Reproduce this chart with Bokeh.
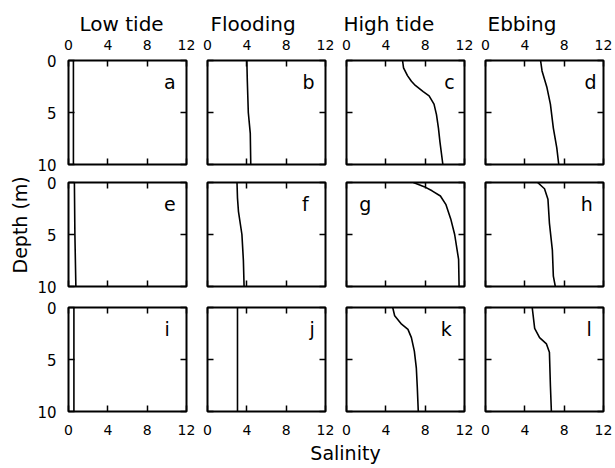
import math
from bokeh.plotting import figure
from bokeh.layouts import column, row
from bokeh.models import (Range1d, LinearAxis, FixedTicker, Label, Title,
                          CustomLabelingPolicy)
from bokeh.embed import file_html
from bokeh.resources import INLINE

# ---- data (salinity vs depth profiles) ----
columns = ["Low tide", "Flooding", "High tide", "Ebbing"]
letters = ["a", "b", "c", "d", "e", "f", "g", "h", "i", "j", "k", "l"]

depth_a = [0, 5, 10]
sal_a = [0.5, 0.5, 0.5]
depth_b = [0, 2, 5, 7, 10]
sal_b = [4.0, 4.05, 4.15, 4.35, 4.4]
depth_c = [0, 0.7, 1.45, 2.0, 2.4, 3.0, 3.4, 4.2, 5.2, 6.5, 7.8, 10]
sal_c = [5.7, 5.8, 6.2, 6.6, 7.0, 7.8, 8.4, 8.9, 9.15, 9.35, 9.5, 9.8]
depth_d = [0, 1, 2.6, 4.2, 6.5, 8.4, 10]
sal_d = [5.6, 5.75, 6.25, 6.6, 6.9, 7.25, 7.45]
depth_e = [0, 5, 10]
sal_e = [0.6, 0.65, 0.75]
depth_f = [0, 1.5, 2.8, 5, 7.5, 10]
sal_f = [3.0, 3.05, 3.15, 3.5, 3.65, 3.72]
depth_g = [0, 0.4, 0.8, 1.3, 2.1, 3.5, 5.0, 7.4, 10]
sal_g = [6.8, 7.9, 8.7, 9.55, 10.1, 10.6, 11.0, 11.4, 11.45]
depth_h = [0, 0.6, 1.6, 3.9, 6.5, 9.0, 10]
sal_h = [5.3, 6.0, 6.35, 6.5, 6.8, 6.9, 7.1]
depth_i = [0, 5, 10]
sal_i = [0.55, 0.55, 0.55]
depth_j = [0, 5, 10]
sal_j = [3.05, 3.05, 3.05]
depth_k = [0, 0.8, 1.6, 2.1, 2.9, 4.2, 5.8, 7.7, 10]
sal_k = [4.7, 4.9, 5.6, 6.25, 6.6, 6.9, 7.1, 7.2, 7.3]
depth_l = [0, 2.0, 2.9, 3.5, 4.3, 7.5, 10]
sal_l = [4.75, 5.0, 5.5, 6.2, 6.5, 6.6, 6.7]

depths = [depth_a, depth_b, depth_c, depth_d, depth_e, depth_f,
          depth_g, depth_h, depth_i, depth_j, depth_k, depth_l]
sals = [sal_a, sal_b, sal_c, sal_d, sal_e, sal_f,
        sal_g, sal_h, sal_i, sal_j, sal_k, sal_l]

x_ticks = [0, 4, 8, 12]
y_ticks = [0, 5, 10]

FONT = "DejaVu Sans"
FW, FH = 118, 104

# layout (borders in px)
left_b = [68, 11, 11, 11]
right_b = [10, 10, 10, 12]
top_b = [60, 9, 11]
bot_b = [9, 10, 30]

# letter placement (data units) and title offsets (px)
letter_x = [10.9, 10.9, 11.0, 11.3, 10.9, 10.3, 1.3, 10.9, 10.3, 10.9, 10.7, 10.8]
title_off = [11, 3, -3, 2]

hide_labels = CustomLabelingPolicy(code="for (const i of indices) { indices.unset(i) } return indices")


def make_axis(kind, labelled, ticks):
    ax = LinearAxis(ticker=FixedTicker(ticks=ticks))
    ax.axis_line_color = None
    ax.major_tick_in = 6
    ax.major_tick_out = 0
    ax.minor_tick_in = 0
    ax.minor_tick_out = 0
    ax.major_tick_line_color = "black"
    ax.major_tick_line_width = 1.5
    if labelled:
        ax.major_label_text_font = FONT
        ax.major_label_text_color = "black"
        if kind == "left":
            ax.major_label_text_font_size = "15px"
            ax.major_label_standoff = 12
        else:
            ax.major_label_text_font_size = "14px"
            ax.major_label_standoff = 11 if kind == "above" else 13
    else:
        ax.major_label_text_font_size = "1px"
        ax.major_label_standoff = 0
        ax.major_label_policy = hide_labels
    return ax


rows = []
for r in range(3):
    figs = []
    for c in range(4):
        k = r * 4 + c
        w = left_b[c] + FW + right_b[c]
        h = top_b[r] + FH + bot_b[r]
        p = figure(width=w, height=h, x_range=Range1d(0, 12), y_range=Range1d(10, 0),
                   output_backend="svg", toolbar_location=None,
                   x_axis_location=None, y_axis_location=None,
                   min_border_left=left_b[c], min_border_right=right_b[c],
                   min_border_top=top_b[r], min_border_bottom=bot_b[r])
        p.xgrid.visible = False
        p.ygrid.visible = False
        p.outline_line_color = "black"
        p.outline_line_width = 2
        p.outline_line_alpha = 1
        p.background_fill_color = "white"
        p.border_fill_color = "white"

        p.add_layout(make_axis("above", r == 0, x_ticks), "above")
        p.add_layout(make_axis("below", r == 2, x_ticks), "below")
        p.add_layout(make_axis("left", c == 0, y_ticks), "left")
        p.add_layout(make_axis("right", False, y_ticks), "right")

        if r == 0:
            p.add_layout(Title(text=columns[c], align="left", offset=title_off[c],
                               text_font=FONT, text_font_size="20px",
                               text_font_style="normal", text_color="black",
                               standoff=2), "above")
        if r == 1 and c == 0:
            p.add_layout(Title(text="Depth (m)", align="left", offset=13,
                               text_font=FONT, text_font_size="19px",
                               text_font_style="normal", text_color="black",
                               standoff=8), "left")

        p.line(sals[k], depths[k], line_color="black", line_width=1.6)

        p.add_layout(Label(x=letter_x[k], y=2.1, text=letters[k],
                           text_align="left" if letters[k] == "g" else "right",
                           text_baseline="alphabetic", text_font=FONT,
                           text_font_size="19px", text_color="black"))
        figs.append(p)
    rows.append(row(*figs, spacing=0))

bottom = figure(width=615, height=27, x_range=Range1d(0, 615), y_range=Range1d(0, 27),
                output_backend="svg", toolbar_location=None,
                x_axis_location=None, y_axis_location=None,
                min_border_left=0, min_border_right=0, min_border_top=0, min_border_bottom=0)
bottom.xgrid.visible = False
bottom.ygrid.visible = False
bottom.outline_line_color = None
bottom.add_layout(Label(x=345, y=16, text="Salinity", text_align="center",
                        text_baseline="middle", text_font=FONT,
                        text_font_size="19px", text_color="black"))

layout = column(*rows, bottom, spacing=0)

open("out.html", "w").write(file_html(layout, INLINE))
